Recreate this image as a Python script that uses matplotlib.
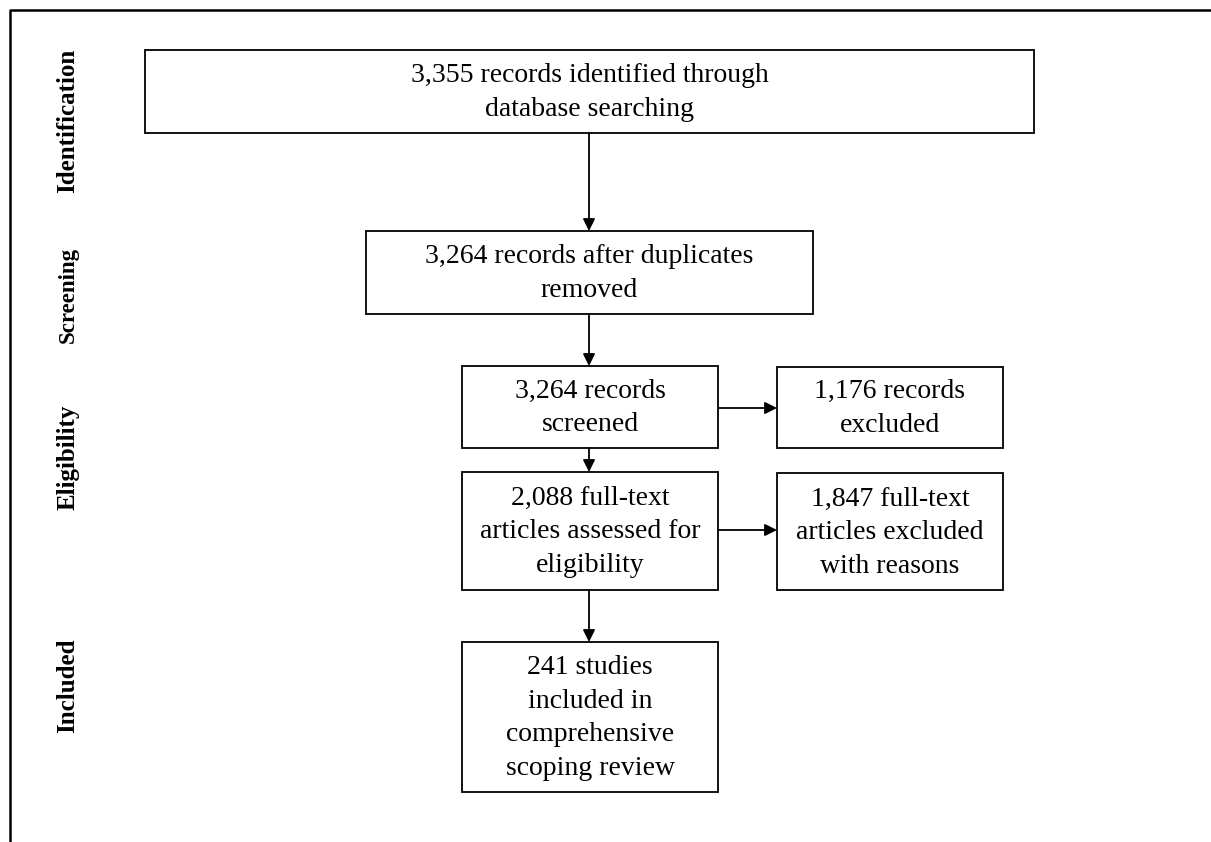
import matplotlib
matplotlib.use("Agg")
import matplotlib.pyplot as plt
from matplotlib.patches import Rectangle

# texts of the flow diagram
stages = ["Identification", "Screening", "Eligibility", "Included"]
box_texts = [
    "3,355 records identified through\ndatabase searching",
    "3,264 records after duplicates\nremoved",
    "3,264 records\nscreened",
    "1,176 records\nexcluded",
    "2,088 full-text\narticles assessed for\neligibility",
    "1,847 full-text\narticles excluded\nwith reasons",
    "241 studies\nincluded in\ncomprehensive\nscoping review",
]

# layout in pixels (x0, y0, x1, y1)
boxes = [
    (145, 50, 1034, 133),
    (366, 231, 813, 314),
    (462, 366, 718, 448),
    (777, 367, 1003, 448),
    (462, 472, 718, 590),
    (777, 473, 1003, 590),
    (462, 642, 718, 792),
]
stage_y = [121, 295, 457, 686]
stage_size = [18, 16.5, 18, 18]
# arrows: (x0, y0, x1, y1)
arrows = [
    (589, 133, 589, 231),
    (589, 314, 589, 366),
    (718, 408, 777, 408),
    (589, 448, 589, 472),
    (718, 530, 777, 530),
    (589, 590, 589, 642),
]

fig = plt.figure(figsize=(12.11, 8.42), dpi=100)
ax = fig.add_axes([0, 0, 1, 1])
ax.set_xlim(0, 1211)
ax.set_ylim(842, 0)
ax.axis("off")

serif = ["Liberation Serif", "DejaVu Serif"]

# outer frame (right and bottom run off the page)
ax.plot([9.5, 9.5, 1215], [850, 9.5, 9.5], color="black", lw=1.8)

for (x0, y0, x1, y1), txt in zip(boxes, box_texts):
    ax.add_patch(Rectangle((x0, y0), x1 - x0, y1 - y0, fill=False,
                           edgecolor="black", lw=1.3))
    ax.text((x0 + x1) / 2, (y0 + y1) / 2 + 1, txt, ha="center", va="center",
            fontsize=20, family=serif, linespacing=1.45)

for x0, y0, x1, y1 in arrows:
    ax.annotate("", xy=(x1, y1), xytext=(x0, y0),
                arrowprops=dict(arrowstyle="-|>", color="black", lw=1.3,
                                mutation_scale=18, shrinkA=0, shrinkB=0))

for name, y, fs in zip(stages, stage_y, stage_size):
    ax.text(68, y, name, rotation=90, ha="center", va="center",
            fontsize=fs, fontweight="bold", family=serif)

fig.savefig("out.png", dpi=100, facecolor="white")
